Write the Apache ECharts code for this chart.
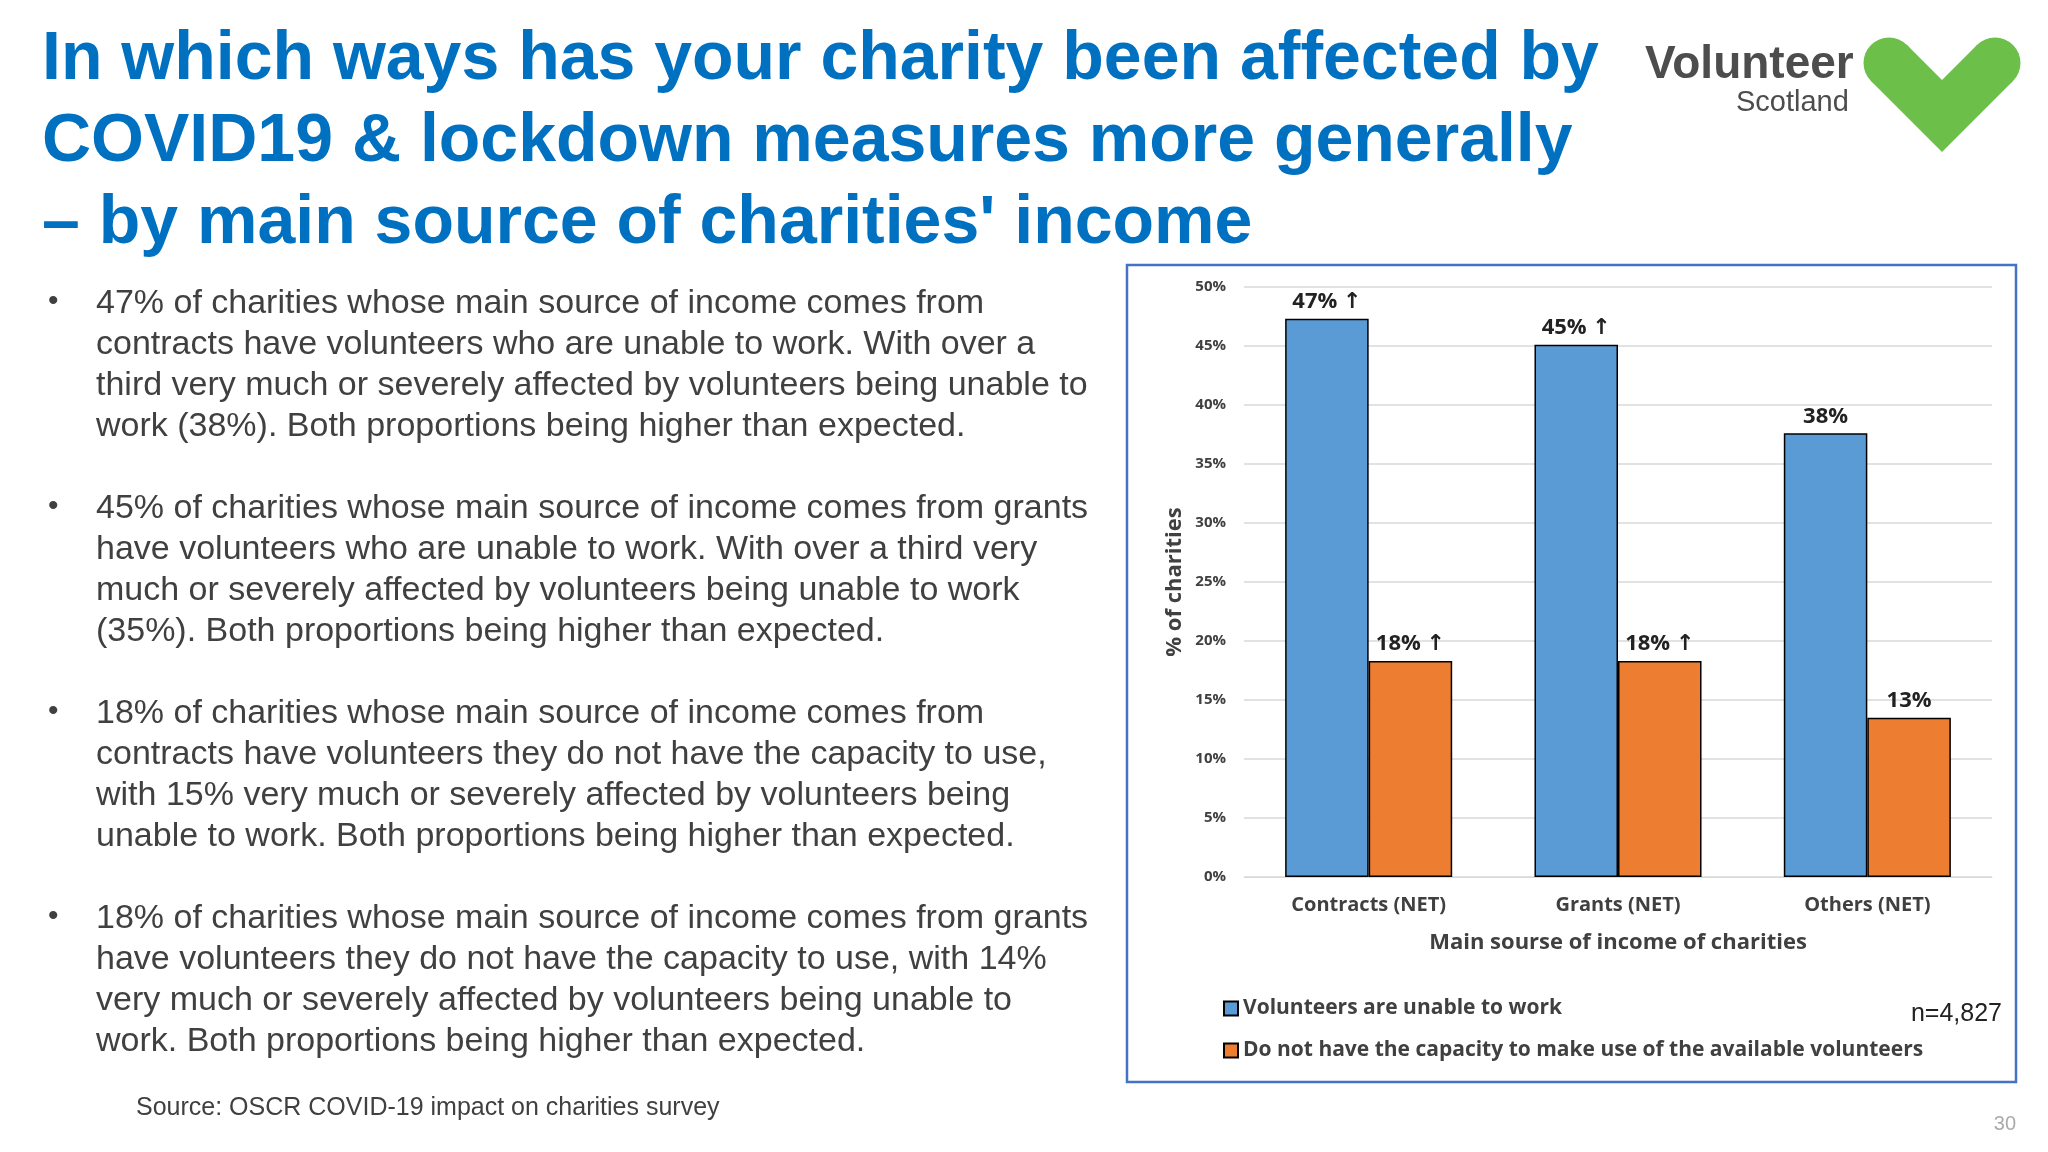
<!DOCTYPE html>
<html><head><meta charset="utf-8">
<script src="https://cdn.jsdelivr.net/npm/echarts@6/dist/echarts.min.js"></script>
<style>html,body{margin:0;padding:0;background:#fff}#c{width:2048px;height:1152px}</style>
</head><body><div id="c"></div>
<script>
const categories = ['Contracts (NET)', 'Grants (NET)', 'Others (NET)'];
const unableToWork = [47.3, 45.1, 37.6];
const noCapacity = [18.3, 18.3, 13.5];
const unableLabels = ['47% ↑', '45% ↑', '38%'];
const capacityLabels = ['18% ↑', '18% ↑', '13%'];
const yTicks = [0, 5, 10, 15, 20, 25, 30, 35, 40, 45, 50];
const seriesNames = ['Volunteers are unable to work', 'Do not have the capacity to make use of the available volunteers'];
const titleLines = ['In which ways has your charity been affected by', 'COVID19 & lockdown measures more generally', '– by main source of charities\' income'];
const bullets = [
 ['47% of charities whose main source of income comes from','contracts have volunteers who are unable to work. With over a','third very much or severely affected by volunteers being unable to','work (38%). Both proportions being higher than expected.'],
 ['45% of charities whose main source of income comes from grants','have volunteers who are unable to work. With over a third very','much or severely affected by volunteers being unable to work','(35%). Both proportions being higher than expected.'],
 ['18% of charities whose main source of income comes from','contracts have volunteers they do not have the capacity to use,','with 15% very much or severely affected by volunteers being','unable to work. Both proportions being higher than expected.'],
 ['18% of charities whose main source of income comes from grants','have volunteers they do not have the capacity to use, with 14%','very much or severely affected by volunteers being unable to','work. Both proportions being higher than expected.']
];
const ff = '"Open Sans", "DejaVu Sans", sans-serif';
const g = [];
titleLines.forEach((t,i)=>g.push({type:'text',x:42,y:26+i*82,style:{text:t,font:'bold 68px "Liberation Sans", Arial, sans-serif',fill:'#0070C0'}}));
const bulletTops=[287,492,697,902];
bullets.forEach((b,bi)=>{
  g.push({type:'text',x:48,y:bulletTops[bi],style:{text:'•',font:'30px "Liberation Sans", Arial',fill:'#404040'}});
  b.forEach((l,li)=>g.push({type:'text',x:96,y:bulletTops[bi]+li*41,style:{text:l,font:'34px "Liberation Sans", Arial, sans-serif',fill:'#404040'}}));
});
g.push({type:'text',x:136,y:1096,style:{text:'Source: OSCR COVID-19 impact on charities survey',font:'25px "Liberation Sans", Arial',fill:'#404040'}});
g.push({type:'text',x:2016,y:1114,style:{text:'30',align:'right',font:'20px "Liberation Sans", Arial',fill:'#aaaaaa'}});
g.push({type:'rect',shape:{x:1127,y:265,width:889,height:817},style:{fill:'none',stroke:'#4472C4',lineWidth:2.5}});
g.push({type:'text',x:2002,y:1002,style:{text:'n=4,827',align:'right',font:'25px "Liberation Sans", Arial',fill:'#222'}});
// logo
g.push({type:'text',x:1645,y:42,style:{text:'Volunteer',font:'bold 46px "Liberation Sans", Arial',fill:'#4d4d4d'}});
g.push({type:'text',x:1736,y:88,style:{text:'Scotland',font:'29px "Liberation Sans", Arial',fill:'#4d4d4d'}});
g.push({type:'polygon',shape:{points:[[1942,152],[1871,81],[1907,45],[1942,80],[1977,45],[2013,81]]},style:{fill:'#6CC04A'}});
g.push({type:'circle',shape:{cx:1889,cy:63,r:25.5},style:{fill:'#6CC04A'}});
g.push({type:'circle',shape:{cx:1995,cy:63,r:25.5},style:{fill:'#6CC04A'}});

const chart = echarts.init(document.getElementById('c'));
chart.setOption({
  animation:false,
  graphic:{elements:g},
  grid:{left:1244,right:56,top:287,bottom:275},
  legend:{orient:'vertical',left:1218,top:993,itemGap:21,itemWidth:14,itemHeight:14,icon:'rect',
    textStyle:{fontFamily:ff,fontSize:21,fontWeight:'bold',color:'#404040'},data:seriesNames},
  xAxis:{type:'category',data:categories,name:'Main sourse of income of charities',nameLocation:'middle',nameGap:55,
    nameTextStyle:{fontFamily:ff,fontSize:22,fontWeight:'bold',color:'#404040'},
    axisLine:{lineStyle:{color:'#d9d9d9'}},axisTick:{show:false},
    axisLabel:{fontFamily:ff,fontSize:20,fontWeight:'bold',color:'#404040',margin:18}},
  yAxis:{type:'value',min:0,max:50,interval:5,name:'% of charities',nameLocation:'middle',nameGap:58,
    nameTextStyle:{fontFamily:ff,fontSize:22,fontWeight:'bold',color:'#404040'},
    axisLabel:{formatter:v=>yTicks.includes(v)?v+'%':'',fontFamily:ff,fontSize:15,fontWeight:'bold',color:'#404040',margin:18},
    splitLine:{lineStyle:{color:'#d9d9d9',width:1.5}},axisLine:{show:false}},
  series:[
    {name:seriesNames[0],type:'bar',data:unableToWork,barWidth:'33.5%',barGap:'0%',
     itemStyle:{color:'#5B9BD5',borderColor:'#000',borderWidth:1.5},
     label:{show:true,position:'top',formatter:p=>unableLabels[p.dataIndex],fontFamily:ff,fontSize:22,fontWeight:'bold',color:'#222',distance:6}},
    {name:seriesNames[1],type:'bar',data:noCapacity,barWidth:'33.5%',
     itemStyle:{color:'#ED7D31',borderColor:'#000',borderWidth:1.5},
     label:{show:true,position:'top',formatter:p=>capacityLabels[p.dataIndex],fontFamily:ff,fontSize:22,fontWeight:'bold',color:'#222',distance:6}}
  ]
});
</script></body></html>
